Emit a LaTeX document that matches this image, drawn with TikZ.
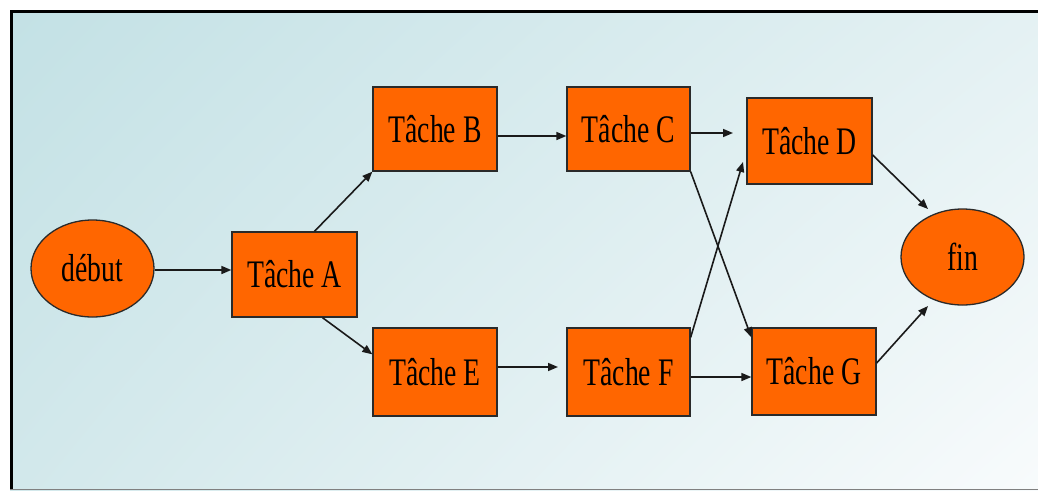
\documentclass[tikz,border=0pt]{standalone}
\usepackage{fontspec}
\setmainfont{Liberation Serif}
\usetikzlibrary{arrows.meta,calc,shapes.geometric,shadings}
\definecolor{boxorange}{HTML}{FF6600}
\definecolor{edgegray}{HTML}{2A2A2A}
\definecolor{arrowgray}{HTML}{1A1A1A}
\definecolor{bgul}{RGB}{195,225,229}
\definecolor{bgur}{RGB}{228,241,243}
\definecolor{bgll}{RGB}{210,232,235}
\definecolor{bglr}{RGB}{248,251,252}
\newcommand{\tx}[1]{\scalebox{0.71}[1]{#1}}
\tikzset{
  task/.style={draw=edgegray, line width=1.3pt, fill=boxorange, inner sep=0pt,
    minimum width=124pt, minimum height=86pt, font=\fontsize{39}{40}\selectfont},
  oval/.style={ellipse, draw=edgegray, line width=1.3pt, fill=boxorange, inner sep=0pt,
    minimum width=123pt, minimum height=97pt, font=\fontsize{39}{40}\selectfont},
  arr/.style={draw=arrowgray, line width=1.6pt, -{Triangle[length=10pt,width=8pt]}}
}
\begin{document}
\begin{tikzpicture}[x=1pt,y=-1pt]
  % frame and background
  \fill[white] (0,0) rectangle (1038,491);
  \useasboundingbox (0,0) rectangle (1038,491);
  \shade[upper left=bgul, upper right=bgur, lower left=bgll, lower right=bglr]
         (10,10) rectangle (1038,490);
  \draw[black, line width=3pt] (10,11.5) -- (1038,11.5);
  \draw[black, line width=3pt] (11.5,10) -- (11.5,490);
  \draw[gray, line width=1.5pt] (10,489.5) -- (1038,489.5);

  % nodes
  \node[oval] (debut) at (92.5,268.5) {\tx{début}};
  \node[task, minimum width=125pt, minimum height=85pt] (A) at (294.5,274.5) {\tx{Tâche A}};
  \node[task, minimum height=84pt] (B) at (435,129) {\tx{Tâche B}};
  \node[task, minimum width=123pt, minimum height=84pt] (C) at (628.5,129) {\tx{Tâche C}};
  \node[task, minimum width=125pt] (D) at (809.5,141) {\tx{Tâche D}};
  \node[task, minimum height=88pt] (E) at (435,372) {\tx{Tâche E}};
  \node[task, minimum width=123pt, minimum height=88pt] (F) at (628.5,372) {\tx{Tâche F}};
  \node[task, minimum height=87pt] (G) at (814,371.5) {\tx{Tâche G}};
  \node[oval, minimum height=96pt] (fin) at (962.5,257) {\tx{fin}};

  % free arrow ends
  \coordinate (cd) at (733,133);
  \coordinate (ef) at (558,367);
  \coordinate (fd) at (743,162);
  \coordinate (dfin) at (928,209);
  \coordinate (gfin) at (928,306);

  % connectors
  \draw[arr] (debut.east |- 0,270) -- (A.west |- 0,270);
  \draw[arr] ($(A.north)+(20,0)$) -- (B.south west);
  \draw[arr] ($(A.south)+(28,0)$) -- ($(E.north west)+(0,27)$);
  \draw[arr] (B.east |- 0,136) -- (C.west |- 0,136);
  \draw[arr] (C.east |- cd) -- (cd);
  \draw[arr] (C.south east) -- ($(G.north west)+(0,10)$);
  \draw[arr] (E.east |- ef) -- (ef);
  \draw[arr] ($(F.north east)+(0,10)$) -- (fd);
  \draw[arr] (F.east |- 0,377) -- (G.west |- 0,377);
  \draw[arr] (D.east |- 0,155) -- (dfin);
  \draw[arr] (G.east |- 0,363) -- (gfin);
\end{tikzpicture}
\end{document}
